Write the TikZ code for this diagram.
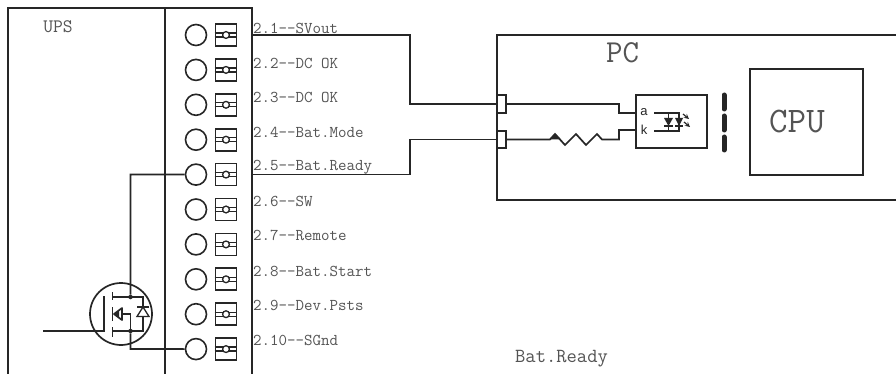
\documentclass[tikz,border=0pt]{standalone}
\usepackage{fontspec}
\setmainfont{Liberation Sans}
\definecolor{ink}{gray}{0.15}
\definecolor{lbl}{gray}{0.33}
\tikzset{
  wire/.style={draw=ink,line width=1.7pt},
  thin wire/.style={draw=ink,line width=1.3pt},
  term/.style={circle,draw=ink,line width=1.6pt,minimum size=21pt,inner sep=0pt},
  screwbox/.style={rectangle,draw=ink,line width=1.7pt,minimum width=21pt,minimum height=22pt,inner sep=0pt},
  pin/.style={rectangle,draw=ink,line width=1.6pt,minimum width=9pt,minimum height=17.5pt,inner sep=0pt},
  box/.style={rectangle,draw=ink,line width=1.7pt,inner sep=0pt},
  pinlabel/.style={anchor=west,inner sep=0pt,text=lbl,font=\ttfamily\fontsize{16.5}{16.5}\selectfont},
  title/.style={inner sep=0pt,text=lbl,font=\ttfamily},
  dot/.style={circle,fill=ink,inner sep=0pt,minimum size=4.5pt}
}
\begin{document}
\begin{tikzpicture}[x=1pt,y=-1pt]
\useasboundingbox (0,0) rectangle (896,374);
\fill[white] (0,0) rectangle (896,374);
% UPS enclosure and terminal strip
\draw[wire] (8,374) -- (8,8) -- (252,8) -- (252,374);
\draw[wire] (165,8) -- (165,374);
\node[title,font=\ttfamily\fontsize{19}{19}\selectfont] (ups) at (58,27) {UPS};
% terminals
\foreach \i/\t/\ly in {1/2.1--SVout/28,2/2.2--DC OK/63,3/2.3--DC OK/97,4/2.4--Bat.Mode/132,5/2.5--Bat.Ready/167,6/2.6--SW/201,7/2.7--Remote/235,8/2.8--Bat.Start/271,9/2.9--Dev.Psts/305,10/2.10--SGnd/340}{
  \pgfmathsetmacro{\yy}{35+34.9*(\i-1)}
  \node[term] (c\i) at (196,\yy) {};
  \node[screwbox] (s\i) at (226,\yy) {};
  \draw[thin wire] (s\i.west) ++(0,-2) -- ++(21,0) (s\i.west) ++(0,2) -- ++(21,0);
  \draw[thin wire,fill=white] (s\i.center) circle (3.4);
  \node[pinlabel] (l\i) at (253,\ly) {\t};
}
% PC enclosure
\draw[wire] (896,35) -- (497,35) -- (497,200) -- (896,200);
\node[title,font=\ttfamily\fontsize{32}{32}\selectfont] (pc) at (622.5,52.5) {PC};
\node[box,minimum width=113pt,minimum height=106pt] (cpu) at (806.5,122) {};
\node[title,font=\ttfamily\fontsize{36}{36}\selectfont] (cpulabel) at (797,122) {CPU};
\node[title,font=\ttfamily\fontsize{20}{20}\selectfont] (batready) at (561.5,359) {Bat.Ready};
% pins
\node[pin,fill=white] (p1) at (501.5,104) {};
\node[pin,fill=white] (p2) at (501.5,139.5) {};
% optocoupler
\node[box,minimum width=71pt,minimum height=53pt] (opto) at (671.5,121.5) {};
\coordinate (oa) at (636,113);
\coordinate (ok) at (636,130);
\node[inner sep=0pt,font=\fontsize{13}{13}\selectfont,text=ink] (la) at (644,112) {a};
\node[inner sep=0pt,font=\fontsize{13}{13}\selectfont,text=ink] (lk) at (644,130) {k};
\draw[thin wire] (654,113) -- (679,113) -- (679,131) -- (654,131);
\draw[thin wire] (668.5,113) -- (668.5,131);
\fill[ink] (664,118) -- (673,118) -- (668.5,126) -- cycle;
\draw[thin wire] (664,126) -- (673,126);
\fill[ink] (675,118) -- (683,118) -- (679,126) -- cycle;
\draw[thin wire] (675,126) -- (683,126);
\draw[draw=ink,line width=1.2pt,->,>=stealth] (683,114) -- (689,119);
\draw[draw=ink,line width=1.2pt,->,>=stealth] (684,122) -- (690,127);
% isolation barrier
\foreach \a/\b in {95/109,116/130,137/150}
  \draw[draw=ink,line width=5pt,line cap=round] (724,\a) -- (724,\b);
% wires
\draw[wire] (252,35) -- (410,35) -- (410,104) -- (p1.west);
\draw[wire] (252,174.5) -- (410,174.5) -- (410,139.5) -- (p2.west);
\draw[wire] (p1.east) -- (619,104) -- (619,113) -- (oa);
\draw[wire] (p2.east) -- (550,139.5) -- (555,134) -- (565,145) -- (576,134) -- (586,145) -- (597,134) -- (602,139.5) -- (619,139.5) -- (619,130) -- (ok);
\fill[ink] (549,139.5) -- (555,133.5) -- (561,139.5) -- cycle;
% MOSFET
\draw[wire] (121,314) circle (31);
\coordinate (gate) at (43,331);
\draw[wire] (gate) -- (104,331) -- (104,296);
\draw[wire] (112.5,292) -- (112.5,300) (112.5,307) -- (112.5,321) (112.5,327) -- (112.5,337);
\draw[wire] (112.5,297) -- (143,297) -- (143,331) -- (112.5,331);
\draw[wire] (122,314) -- (130.5,314) -- (130.5,331);
\draw[wire,fill=white,line join=round] (114,314) -- (122,308) -- (122,320) -- cycle;
\fill[ink] (114,314) -- (119,310.5) -- (119,317.5) -- cycle;
\draw[thin wire,fill=white] (143,307) -- (137,316.5) -- (149,316.5) -- cycle;
\draw[thin wire] (137,307) -- (149,307);
\node[dot] (drain) at (130.5,297) {};
\node[dot] (source) at (130.5,331) {};
\draw[wire] (drain) -- (130.5,174.5) -- (c5.west);
\draw[wire] (source) -- (130.5,349) -- (c10.west);
\end{tikzpicture}
\end{document}
